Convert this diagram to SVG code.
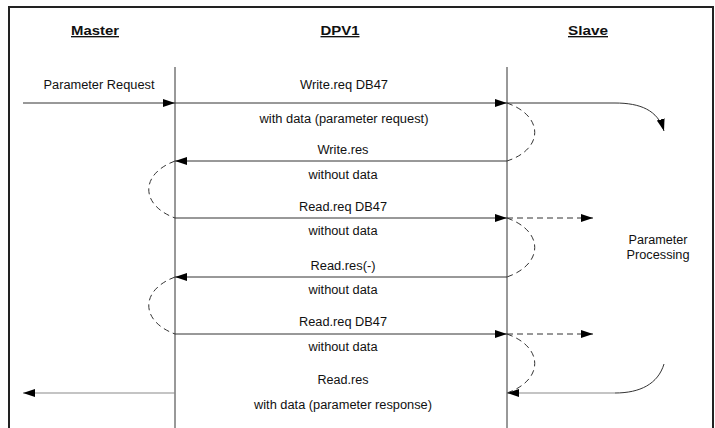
<svg xmlns="http://www.w3.org/2000/svg" width="715" height="428" viewBox="0 0 715 428">
  <style>
    .hdr { font-family: "Liberation Sans", Arial, sans-serif; font-size: 13.5px; font-weight: bold; text-anchor: middle; text-decoration: underline; fill: #111; }
    .lbl { font-family: "Liberation Sans", Arial, sans-serif; font-size: 12.3px; text-anchor: middle; fill: #111; }
    .life { stroke: #333; stroke-width: 1; fill: none; }
    .msg { stroke: #333; stroke-width: 1; fill: none; }
    .grey { stroke: #8a8a8a; stroke-width: 1.2; fill: none; }
    .dash { stroke: #333; stroke-width: 1; fill: none; stroke-dasharray: 6 4; }
  </style>
  <defs>
    <marker id="ah" markerUnits="userSpaceOnUse" markerWidth="13" markerHeight="9" refX="12" refY="4" orient="auto">
      <path d="M0,0 L12,4 L0,8 z" fill="#000"/>
    </marker>
  </defs>
  <rect x="0" y="0" width="715" height="428" fill="#fff"/>
  <rect x="9" y="7" width="704" height="430" fill="none" stroke="#222" stroke-width="2"/>

  <g id="master">
    <text class="hdr" x="95" y="35" textLength="48" lengthAdjust="spacingAndGlyphs">Master</text>
  </g>
  <g id="dpv1">
    <text class="hdr" x="340" y="35" textLength="39" lengthAdjust="spacingAndGlyphs">DPV1</text>
    <line class="life" x1="175" y1="67" x2="175" y2="428"/>
  </g>
  <g id="slave">
    <text class="hdr" x="588" y="35" textLength="40" lengthAdjust="spacingAndGlyphs">Slave</text>
    <line class="life" x1="507" y1="67" x2="507" y2="428"/>
  </g>
  <g id="processing">
    <text class="lbl" x="658" y="244" textLength="59" lengthAdjust="spacingAndGlyphs">Parameter</text>
    <text class="lbl" x="658" y="259" textLength="63" lengthAdjust="spacingAndGlyphs">Processing</text>
  </g>

  <g id="connectors">
    <!-- Parameter request -->
    <line class="msg" x1="23" y1="103" x2="175" y2="103" marker-end="url(#ah)"/>
    <line class="msg" x1="175" y1="103" x2="507" y2="103" marker-end="url(#ah)"/>
    <path class="msg" d="M507,103 L615,103 C640,103 658,110 664,131" marker-end="url(#ah)"/>
    <path class="dash" d="M507,103 C544,116 544,149 507,161"/>
    <!-- Write.res -->
    <line class="msg" x1="507" y1="161" x2="175" y2="161" marker-end="url(#ah)"/>
    <path class="dash" d="M175,161 C140,174 140,205 175,218"/>
    <!-- Read.req 1 -->
    <line class="msg" x1="175" y1="218" x2="507" y2="218" marker-end="url(#ah)"/>
    <line class="dash" x1="507" y1="218" x2="593" y2="218" marker-end="url(#ah)"/>
    <path class="dash" d="M507,218 C544,231 544,264 507,277"/>
    <!-- Read.res(-) -->
    <line class="msg" x1="507" y1="277" x2="175" y2="277" marker-end="url(#ah)"/>
    <path class="dash" d="M175,277 C140,290 140,321 175,334"/>
    <!-- Read.req 2 -->
    <line class="msg" x1="175" y1="334" x2="507" y2="334" marker-end="url(#ah)"/>
    <line class="dash" x1="507" y1="334" x2="593" y2="334" marker-end="url(#ah)"/>
    <path class="dash" d="M507,334 C544,347 544,380 507,393"/>
    <!-- Read.res -->
    <path class="msg" d="M664,364 C658,384 640,393 615,393"/>
    <line class="grey" x1="615" y1="393" x2="507" y2="393" marker-end="url(#ah)"/>
    <line class="grey" x1="175" y1="393" x2="23" y2="393" marker-end="url(#ah)"/>
  </g>

  <g id="labels">
    <text class="lbl" x="99" y="89" textLength="111" lengthAdjust="spacingAndGlyphs">Parameter Request</text>
    <text class="lbl" x="344" y="89" textLength="88" lengthAdjust="spacingAndGlyphs">Write.req DB47</text>
    <text class="lbl" x="344" y="123" textLength="169" lengthAdjust="spacingAndGlyphs">with data (parameter request)</text>
    <text class="lbl" x="343" y="154" textLength="51" lengthAdjust="spacingAndGlyphs">Write.res</text>
    <text class="lbl" x="343" y="179" textLength="69" lengthAdjust="spacingAndGlyphs">without data</text>
    <text class="lbl" x="343" y="211" textLength="88" lengthAdjust="spacingAndGlyphs">Read.req DB47</text>
    <text class="lbl" x="343" y="235" textLength="69" lengthAdjust="spacingAndGlyphs">without data</text>
    <text class="lbl" x="343" y="270" textLength="65" lengthAdjust="spacingAndGlyphs">Read.res(-)</text>
    <text class="lbl" x="343" y="294" textLength="69" lengthAdjust="spacingAndGlyphs">without data</text>
    <text class="lbl" x="343" y="326" textLength="88" lengthAdjust="spacingAndGlyphs">Read.req DB47</text>
    <text class="lbl" x="343" y="351" textLength="69" lengthAdjust="spacingAndGlyphs">without data</text>
    <text class="lbl" x="343" y="384" textLength="51" lengthAdjust="spacingAndGlyphs">Read.res</text>
    <text class="lbl" x="343" y="409" textLength="178" lengthAdjust="spacingAndGlyphs">with data (parameter response)</text>
  </g>
</svg>
